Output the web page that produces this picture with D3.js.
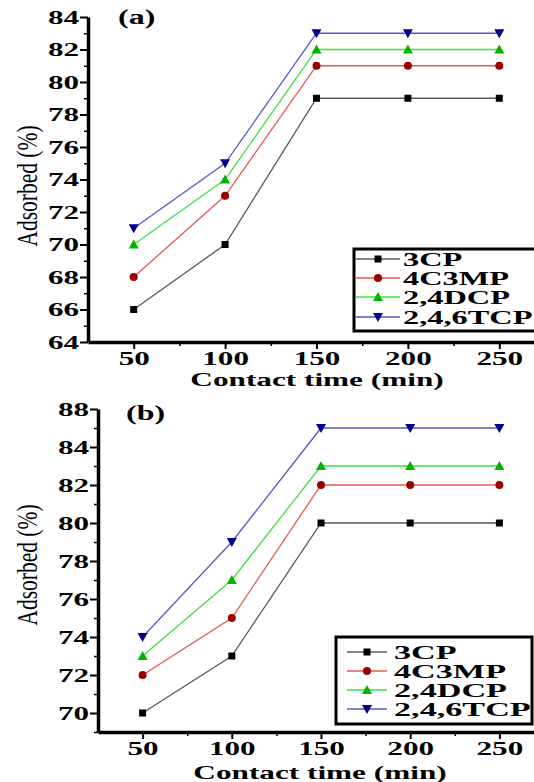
<!DOCTYPE html>
<html>
<head>
<meta charset="utf-8">
<script src="https://cdn.jsdelivr.net/npm/d3@7/dist/d3.min.js"></script>
<style>
  html, body { margin: 0; padding: 0; background: #fff; }
  svg { display: block; }
  text { font-family: "Liberation Serif", "Times New Roman", serif; fill: #000; }
</style>
</head>
<body>
<svg id="chart" width="534" height="782"></svg>
<script>
// Contact time (min)
const times = [50, 100, 150, 200, 250];
const seriesNames = ["3CP", "4C3MP", "2,4DCP", "2,4,6TCP"];

// Panel (a): adsorbed (%)
const a3CP   = [66, 70, 79, 79, 79];
const a4C3MP = [68, 73, 81, 81, 81];
const a24DCP = [70, 74, 82, 82, 82];
const a246TCP = [71, 75, 83, 83, 83];

// Panel (b): adsorbed (%)
const b3CP   = [70, 73, 80, 80, 80];
const b4C3MP = [72, 75, 82, 82, 82];
const b24DCP = [73, 77, 83, 83, 83];
const b246TCP = [74, 79, 85, 85, 85];

// Axis ticks and labels
const xTicks = [50, 100, 150, 200, 250];
const xMinorTicks = [75, 125, 175, 225];
const yTicksA = [64, 66, 68, 70, 72, 74, 76, 78, 80, 82, 84];
const yTickLabelsA = ["64", "66", "68", "70", "72", "74", "76", "78", "80", "82", "84"];
const yMinorA = [65, 67, 69, 71, 73, 75, 77, 79, 81, 83];
const yTicksB = [70, 72, 74, 76, 78, 80, 82, 84, 86];
const yTickLabelsB = ["70", "72", "74", "76", "78", "80", "82", "84", "88"];
const yMinorB = [69, 71, 73, 75, 77, 79, 81, 83, 85];

const lineColors = ["#5a5a5a", "#e25a5a", "#3fe03f", "#5858cc"];
const markColors = ["#000000", "#9a0000", "#00b400", "#00008c"];
const markShapes = ["square", "circle", "up", "down"];

const SX = 1.6;       // horizontal glyph stretch for titles
const TICK_SX = 1.73; // horizontal glyph stretch for tick labels
const TICK_FS = 18;

const svg = d3.select("#chart");

function marker(g, shape, color, cx, cy) {
  if (shape === "square") {
    g.append("rect").attr("x", cx - 3.5).attr("y", cy - 3.5)
      .attr("width", 7).attr("height", 7).attr("fill", color);
  } else if (shape === "circle") {
    g.append("circle").attr("cx", cx).attr("cy", cy).attr("r", 4).attr("fill", color);
  } else if (shape === "up") {
    g.append("path").attr("d", `M${cx - 5},${cy + 4}L${cx + 5},${cy + 4}L${cx},${cy - 5}Z`).attr("fill", color);
  } else {
    g.append("path").attr("d", `M${cx - 5},${cy - 4}L${cx + 5},${cy - 4}L${cx},${cy + 5}Z`).attr("fill", color);
  }
}

function stretchedText(parent, x, y, str, size, weight, anchor, rotate, sx) {
  const g = parent.append("g")
    .attr("transform", `translate(${x},${y}) scale(${sx || SX},1)` + (rotate ? ` rotate(${rotate})` : ""));
  g.append("text").attr("text-anchor", anchor || "start")
    .style("font-size", size + "px").style("font-weight", weight || "bold")
    .text(str);
  return g;
}

function panel(cfg) {
  const x = d3.scaleLinear().domain([25, 275]).range([cfg.left, cfg.right]);
  const y = d3.scaleLinear().domain(cfg.yDomain).range([cfg.bottom, cfg.top]);
  const g = svg.append("g");

  // series lines and markers
  cfg.series.forEach((vals, si) => {
    const pts = times.map((t, i) => [x(t), y(vals[i])]);
    g.append("path").attr("d", d3.line()(pts))
      .attr("fill", "none").attr("stroke", lineColors[si]).attr("stroke-width", 1.3);
    pts.forEach(p => marker(g, markShapes[si], markColors[si], p[0], p[1]));
  });

  // y axis: minor then major ticks
  const yMinor = g.append("g").attr("transform", `translate(${cfg.left},0)`)
    .call(d3.axisLeft(y).tickValues(cfg.yMinor).tickFormat("").tickSize(4).tickSizeOuter(0));
  yMinor.select(".domain").remove();
  yMinor.selectAll("line").attr("stroke-width", 1.5);
  const yAxis = g.append("g").attr("transform", `translate(${cfg.left},0)`)
    .call(d3.axisLeft(y).tickValues(cfg.yTicks)
      .tickFormat((d, i) => cfg.yLabels[i]).tickSize(8).tickSizeOuter(0));
  yAxis.select(".domain").attr("stroke-width", 3.5);
  yAxis.selectAll(".tick line").attr("stroke-width", 2);
  yAxis.selectAll(".tick text")
    .attr("transform", `scale(${TICK_SX},1)`).attr("x", -9 / TICK_SX).attr("dy", "0.35em")
    .style("font-size", TICK_FS + "px").style("font-weight", "bold")
    .style("font-family", '"Liberation Serif", serif').attr("fill", "#000");

  // x axis
  const xMinor = g.append("g").attr("transform", `translate(0,${cfg.bottom})`)
    .call(d3.axisBottom(x).tickValues(xMinorTicks).tickFormat("").tickSize(4).tickSizeOuter(0));
  xMinor.select(".domain").remove();
  xMinor.selectAll("line").attr("stroke-width", 1.5);
  const xAxis = g.append("g").attr("transform", `translate(0,${cfg.bottom})`)
    .call(d3.axisBottom(x).tickValues(xTicks).tickFormat(d3.format("d")).tickSize(7).tickSizeOuter(0));
  xAxis.select(".domain").attr("stroke-width", 3.5);
  xAxis.selectAll(".tick line").attr("stroke-width", 2);
  xAxis.selectAll(".tick text")
    .attr("transform", `scale(${TICK_SX},1)`).attr("y", 23).attr("dy", 0)
    .style("font-size", TICK_FS + "px").style("font-weight", "bold")
    .style("font-family", '"Liberation Serif", serif').attr("fill", "#000");

  // axis titles
  stretchedText(g, cfg.xTitleX, cfg.xTitleY, "Contact time (min)", 18.5, "bold", "middle", 0, 1.69);
  stretchedText(g, cfg.yTitleX, cfg.yTitleY, "Adsorbed (%)", 21.5, "normal", "middle", -90, 1.35);

  // panel label
  stretchedText(g, cfg.tagX, cfg.tagY, cfg.tag, 20, "bold", "start");

  // legend
  const L = cfg.legend;
  g.append("rect").attr("x", L.x).attr("y", L.y).attr("width", L.w).attr("height", L.h)
    .attr("fill", "#fff").attr("stroke", "#000").attr("stroke-width", 3);
  seriesNames.forEach((name, si) => {
    const ry = L.rows[si];
    g.append("line").attr("x1", L.lx1).attr("x2", L.lx2).attr("y1", ry).attr("y2", ry)
      .attr("stroke", lineColors[si]).attr("stroke-width", 1.3);
    marker(g, markShapes[si], markColors[si], (L.lx1 + L.lx2) / 2, ry);
    stretchedText(g, L.tx, ry + 6.5, name, 18, "bold", "start", 0, L.sx);
  });
}

panel({
  left: 88, right: 545, top: 17, bottom: 342,
  yDomain: [64, 84], yTicks: yTicksA, yLabels: yTickLabelsA, yMinor: yMinorA,
  series: [a3CP, a4C3MP, a24DCP, a246TCP],
  xTitleX: 317, xTitleY: 386, yTitleX: 37, yTitleY: 186,
  tag: "(a)", tagX: 118, tagY: 24,
  legend: { x: 354, y: 249, w: 182, h: 82, rows: [259, 278, 297, 317], lx1: 356, lx2: 400, tx: 403, sx: 1.8 }
});

panel({
  left: 98, right: 544, top: 409, bottom: 732,
  yDomain: [69, 86], yTicks: yTicksB, yLabels: yTickLabelsB, yMinor: yMinorB,
  series: [b3CP, b4C3MP, b24DCP, b246TCP],
  xTitleX: 320, xTitleY: 779, yTitleX: 37, yTitleY: 565,
  tag: "(b)", tagX: 126, tagY: 420,
  legend: { x: 336, y: 637, w: 196, h: 87, rows: [652, 671, 690, 709], lx1: 347, lx2: 387, tx: 394, sx: 1.9 }
});
</script>
</body>
</html>
